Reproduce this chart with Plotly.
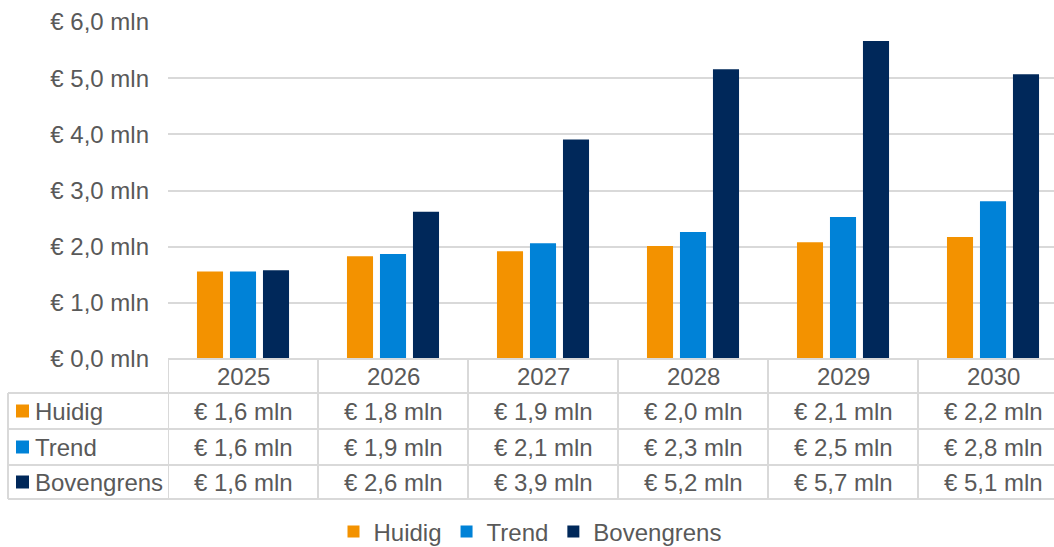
import plotly.graph_objects as go

years = ["2025", "2026", "2027", "2028", "2029", "2030"]
huidig = [1.56, 1.83, 1.92, 2.01, 2.08, 2.17]
trend = [1.56, 1.87, 2.06, 2.26, 2.53, 2.81]
bovengrens = [1.58, 2.62, 3.91, 5.16, 5.66, 5.07]
series_names = ["Huidig", "Trend", "Bovengrens"]
series_values = [huidig, trend, bovengrens]
colors = ["#F39200", "#0082D7", "#00285A"]
ytick_vals = [0, 1, 2, 3, 4, 5, 6]
ytick_text = ["€ 0,0 mln", "€ 1,0 mln", "€ 2,0 mln", "€ 3,0 mln",
              "€ 4,0 mln", "€ 5,0 mln", "€ 6,0 mln"]

W, H = 1054, 547
L, T, B = 168, 22, 188
PW = W - L
PH = H - T - B
BOTTOM = T + PH  # pixel y of plot bottom
TXT = "#595959"
GRID = "#d9d9d9"
FONT = "Liberation Sans, Arial, sans-serif"


def fmt(v):
    return "€ " + f"{v:.1f}".replace(".", ",") + " mln"


def py(p):
    return (BOTTOM - p) / PH


def pxx(p):
    return (p - L) / PW


fig = go.Figure()
for name, vals, c in zip(series_names, series_values, colors):
    fig.add_trace(go.Bar(x=list(range(len(years))), y=vals, name=name,
                         marker=dict(color=c, line=dict(width=0))))

shapes = []
annotations = []

# table grid
row_lines = [BOTTOM, 393, 429, 465, 499]
for i, yl in enumerate(row_lines):
    x0 = pxx(168) if i == 0 else pxx(8)
    shapes.append(dict(type="line", xref="paper", yref="paper",
                       x0=x0, x1=1, y0=py(yl), y1=py(yl),
                       line=dict(color=GRID, width=2)))
shapes.append(dict(type="line", xref="paper", yref="paper",
                   x0=pxx(8), x1=pxx(8), y0=py(393), y1=py(499),
                   line=dict(color=GRID, width=2)))
for k in range(len(years)):
    shapes.append(dict(type="line", xref="x", yref="paper",
                       x0=k - 0.5, x1=k - 0.5, y0=py(BOTTOM), y1=py(499),
                       line=dict(color=GRID, width=2)))

row_centers = [411, 447, 482]
for j, yr in enumerate(years):
    annotations.append(dict(x=j, y=py(376), xref="x", yref="paper", text=yr,
                            showarrow=False, font=dict(size=24, color=TXT, family=FONT),
                            xanchor="center", yanchor="middle"))
    for r, vals in enumerate(series_values):
        annotations.append(dict(x=j, y=py(row_centers[r]), xref="x", yref="paper",
                                text=fmt(vals[j]), showarrow=False,
                                font=dict(size=24, color=TXT, family=FONT),
                                xanchor="center", yanchor="middle"))

for r, (name, c) in enumerate(zip(series_names, colors)):
    yc = row_centers[r]
    shapes.append(dict(type="rect", xref="paper", yref="paper",
                       x0=pxx(16), x1=pxx(29), y0=py(yc - 6.5), y1=py(yc + 6.5),
                       fillcolor=c, line=dict(width=0)))
    annotations.append(dict(x=pxx(33), y=py(yc), xref="paper", yref="paper",
                            text=name, showarrow=False,
                            font=dict(size=24, color=TXT, family=FONT),
                            xanchor="left", yanchor="middle"))

fig.update_layout(
    width=W, height=H,
    margin=dict(l=L, r=0, t=T, b=B, pad=0),
    paper_bgcolor="white", plot_bgcolor="white",
    font=dict(family=FONT, size=24, color=TXT),
    barmode="group", bargap=0.34, bargroupgap=0.21,
    xaxis=dict(range=[-0.5, -0.5 + PW / 150], showticklabels=False,
               showgrid=False, zeroline=False, showline=False, fixedrange=True),
    yaxis=dict(range=[0, 6], tickvals=ytick_vals, ticktext=ytick_text,
               showgrid=True, gridcolor=GRID, gridwidth=2, zeroline=False,
               showline=False, ticks="", ticklabelstandoff=18,
               tickfont=dict(size=24, color=TXT, family=FONT)),
    legend=dict(orientation="h", xref="container", yref="container",
                x=530 / W, xanchor="center", y=(H - 532) / H, yanchor="middle",
                font=dict(size=24, color=TXT, family=FONT),
                itemwidth=30, tracegroupgap=0),
    shapes=shapes, annotations=annotations,
)

fig.write_html("out.html", config={"displayModeBar": False},
               post_script="document.body.style.margin='0';"
                           "document.body.style.overflow='hidden';"
                           "document.documentElement.style.overflow='hidden';")
